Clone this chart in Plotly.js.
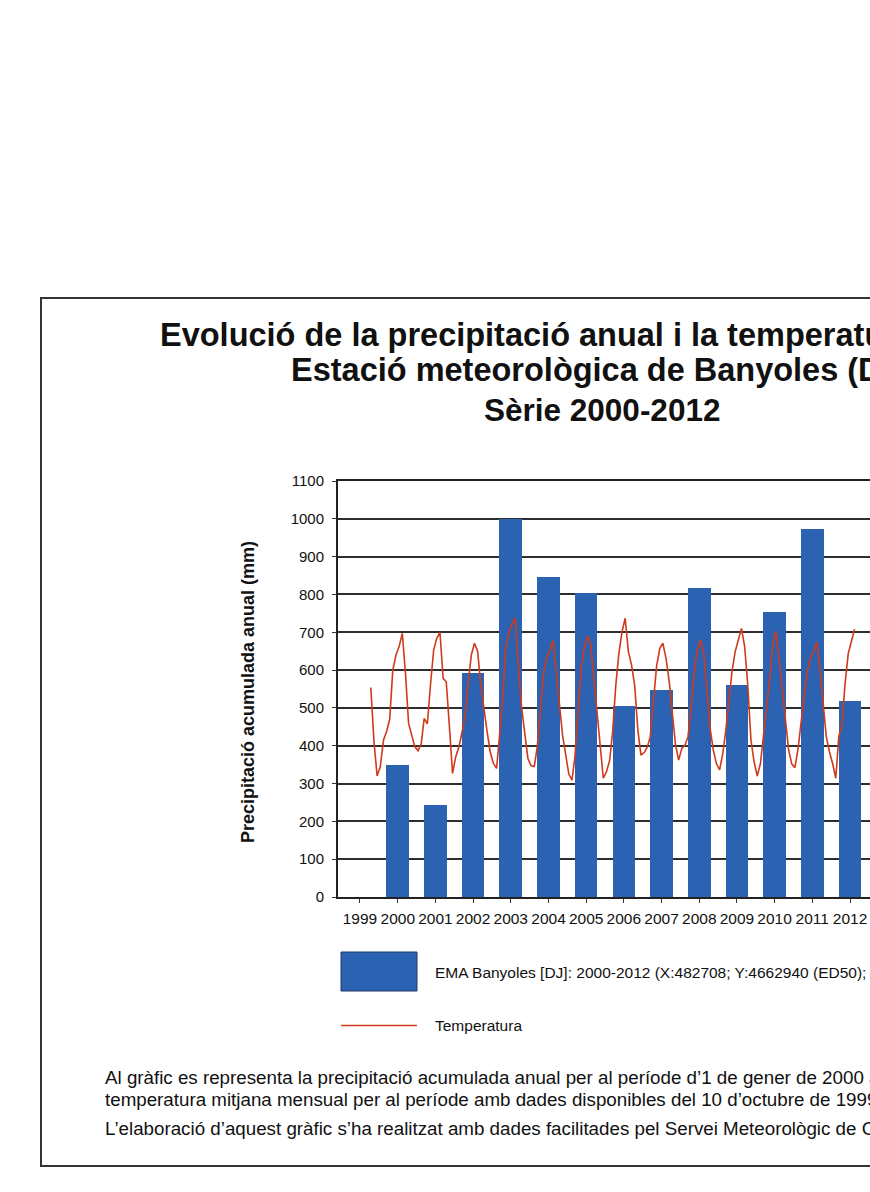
<!DOCTYPE html>
<html>
<head>
<meta charset="utf-8">
<script src="https://cdn.plot.ly/plotly-3.0.1.min.js"></script>
<style>
html,body{margin:0;padding:0;overflow:hidden;background:#fff;width:870px;height:1192px}
#chart{position:absolute;left:0;top:0;width:1190px;height:1192px}
</style>
</head>
<body>
<div id="chart"></div>
<script>
// ---- Data ----
const anys = [2000, 2001, 2002, 2003, 2004, 2005, 2006, 2007, 2008, 2009, 2010, 2011, 2012];
const precipitacio = [350, 242, 593, 1000, 847, 803, 505, 547, 816, 561, 753, 972, 519];
const anysEix = [1999, 2000, 2001, 2002, 2003, 2004, 2005, 2006, 2007, 2008, 2009, 2010, 2011, 2012];

// monthly temperature (drawn in chart units), starting October 1999
const inici = {any: 1999, mes: 10};
const t1999 = [554, 410, 320];
const t2000 = [345, 415, 437, 470, 600, 640, 662, 697, 591, 459, 424, 397];
const t2001 = [387, 406, 472, 458, 560, 653, 684, 700, 578, 569, 450, 327];
const t2002 = [371, 397, 433, 477, 565, 640, 671, 650, 560, 494, 437, 384];
const t2003 = [353, 340, 433, 521, 662, 700, 722, 737, 605, 503, 433, 367];
const t2004 = [347, 345, 397, 486, 591, 634, 653, 678, 600, 512, 428, 375];
const t2005 = [325, 309, 371, 494, 605, 662, 690, 666, 574, 494, 393, 314];
const t2006 = [331, 362, 435, 560, 644, 702, 737, 649, 613, 560, 441, 375];
const t2007 = [382, 397, 424, 521, 609, 657, 671, 631, 569, 486, 402, 362];
const t2008 = [393, 402, 424, 503, 600, 653, 680, 644, 538, 446, 389, 353];
const t2009 = [336, 380, 437, 521, 596, 649, 680, 710, 662, 560, 415, 358];
const t2010 = [320, 353, 424, 499, 574, 671, 702, 627, 547, 468, 389, 352];
const t2011 = [342, 393, 464, 534, 596, 634, 649, 674, 600, 503, 424, 384];
const t2012 = [353, 314, 424, 455, 565, 644, 675, 708];

const temperatura = [].concat(t1999, t2000, t2001, t2002, t2003, t2004, t2005,
  t2006, t2007, t2008, t2009, t2010, t2011, t2012);

// ---- Build x positions ----
const pad = n => (n < 10 ? '0' : '') + n;
const dataMes = temperatura.map((v, i) => {
  const k = inici.mes - 1 + i;
  const y = inici.any + Math.floor(k / 12);
  const m = (k % 12) + 1;
  return y + '-' + pad(m) + '-15';
});
const meitatAny = y => y + '-07-02';
const ampleBarra = 0.6 * 365.25 * 864e5;

// ---- Geometry (pixels) ----
const W = 1190, H = 1192;
const L = 338, T = 481, PW = 550, PH = 416;
const R = W - L - PW, B = H - T - PH;
const X = p => (p - L) / PW;
const Y = p => (T + PH - p) / PH;

const FONT = 'Liberation Sans, Arial, Helvetica, sans-serif';
const BLAU = '#2b62b2';
const VERMELL = '#d03a1c';

const traces = [
  {
    type: 'bar',
    x: anys.map(meitatAny),
    y: precipitacio,
    width: anys.map(() => ampleBarra),
    marker: {color: BLAU, line: {width: 0}},
    name: 'EMA Banyoles [DJ]',
    hoverinfo: 'x+y'
  },
  {
    type: 'scatter',
    mode: 'lines',
    x: dataMes,
    y: temperatura,
    line: {color: VERMELL, width: 1.6},
    name: 'Temperatura'
  }
];

function txt(text, px, py, size, extra) {
  return Object.assign({
    text: text, xref: 'paper', yref: 'paper', x: X(px), y: Y(py),
    xanchor: 'left', yanchor: 'middle', showarrow: false,
    font: {family: FONT, size: size, color: '#111'}
  }, extra || {});
}

const annotations = [
  txt('<b>Evolució de la precipitació anual i la temperatura mitjana mensual</b>', 158, 335, 32.5),
  txt('<b>Estació meteorològica de Banyoles (DJ)</b>', 289, 370, 32.5),
  txt('<b>Sèrie 2000-2012</b>', 482, 410, 31.5),
  txt('<b>Precipitació acumulada anual (mm)</b>', 248, 692, 18,
      {textangle: -90, xanchor: 'center', yanchor: 'middle'}),
  txt('EMA Banyoles [DJ]: 2000-2012 (X:482708; Y:4662940 (ED50);', 433, 972, 15.5),
  txt('Temperatura', 433, 1025, 15.5),
  txt('Al gràfic es representa la precipitació acumulada anual per al període d\u20191 de gener de 2000 al 31 de desembre de 2012 i la', 103, 1077, 18.75),
  txt('temperatura mitjana mensual per al període amb dades disponibles del 10 d\u2019octubre de 1999', 103, 1099, 18.75),
  txt('L\u2019elaboració d\u2019aquest gràfic s\u2019ha realitzat amb dades facilitades pel Servei Meteorològic de Catalunya.', 103, 1128, 18.75)
];

const shapes = [
  {type: 'rect', xref: 'paper', yref: 'paper', x0: X(41), x1: X(1188), y0: Y(298), y1: Y(1166),
   line: {color: '#333', width: 2}, fillcolor: 'rgba(0,0,0,0)', layer: 'below'},
  {type: 'rect', xref: 'paper', yref: 'paper', x0: X(341), x1: X(417), y0: Y(952), y1: Y(991),
   line: {color: '#1e3a68', width: 1}, fillcolor: BLAU},
  {type: 'line', xref: 'paper', yref: 'paper', x0: X(341), x1: X(417), y0: Y(1025.5), y1: Y(1025.5),
   line: {color: VERMELL, width: 1.6}}
];

const layout = {
  width: W, height: H,
  margin: {l: L, r: R, t: T, b: B, pad: 0},
  paper_bgcolor: '#fff', plot_bgcolor: '#fff',
  showlegend: false,
  bargap: 0,
  font: {family: FONT, color: '#111'},
  xaxis: {
    type: 'date',
    range: ['1998-12-01', '2013-07-05'],
    tickmode: 'array',
    tickvals: anysEix.map(meitatAny),
    ticktext: anysEix.map(String),
    ticks: 'outside', ticklen: 4, tickwidth: 1, tickcolor: '#333',
    showgrid: false, zeroline: false,
    showline: true, linecolor: '#222', linewidth: 2, mirror: true,
    tickfont: {family: FONT, size: 15.5, color: '#111'},
    ticklabelstandoff: 2
  },
  yaxis: {
    range: [0, 1100], tick0: 0, dtick: 100,
    showgrid: true, gridcolor: '#2e2e2e', gridwidth: 2,
    zeroline: false,
    showline: true, linecolor: '#222', linewidth: 2,
    ticks: 'outside', ticklen: 4, tickwidth: 1, tickcolor: '#333',
    tickfont: {family: FONT, size: 15, color: '#111'},
    ticklabelstandoff: 5
  },
  annotations: annotations,
  shapes: shapes
};

Plotly.newPlot('chart', traces, layout, {displayModeBar: false, staticPlot: true});
</script>
</body>
</html>
